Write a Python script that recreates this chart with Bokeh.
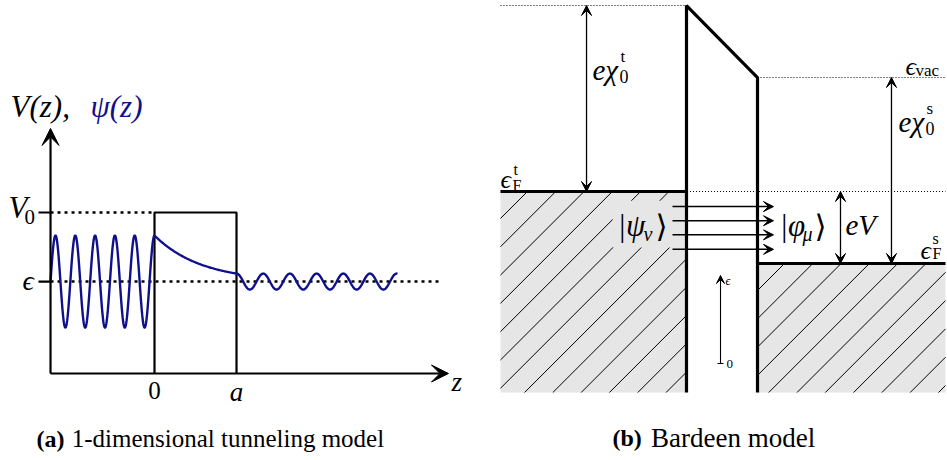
import numpy as np
from bokeh.plotting import figure
from bokeh.models import Range1d, Arrow, VeeHead, TeeHead
from bokeh.layouts import row
from bokeh.core.properties import value
from bokeh.embed import file_html
from bokeh.resources import INLINE

# ---------------- data: (a) 1-D tunnelling model ----------------
Z_BARRIER = [0.0, 1.0]            # barrier edges: 0 and a
V0 = 1.0                          # barrier height
EPS = 0.571                       # particle energy
Z_AXIS = [-1.268, 3.585]          # z axis extent
V_AXIS = [0.0, 1.522]             # V axis extent
TICK_Z = -1.415
EPS_DOT_END = 3.51
PSI_LEFT_AMP = 0.286
PSI_LEFT_WL = 0.2415
PSI_DECAY = 1.75
PSI_RIGHT_AMP = 0.0497
PSI_RIGHT_WL = 0.3256
PSI_RIGHT_END = 2.963

# ---------------- data: (b) Bardeen model ----------------
TIP_LEFT = -2.62
GAP = 1.0
SAMPLE_RIGHT = 3.648
BOTTOM = -3.468
E_F_S = 0.0
EV = 1.935
E_F_T = E_F_S + EV
CHI_T = 5.0
CHI_S = 5.0
E_VAC_T = E_F_T + CHI_T
E_VAC_S = E_F_S + CHI_S
STATE_E = [1.53, 1.15, 0.77, 0.38]
STATE_U = [-0.197, 1.225]
ARROW_CHI_T_U = -1.408
ARROW_EV_U = 2.169
ARROW_CHI_S_U = 2.887
SMALL_AXIS_U = 0.479
SMALL_AXIS_E = [-2.688, -0.323]

NAVY = "#10108c"
GRAY = "#e6e6e6"
SERIF = value("'Liberation Serif', 'DejaVu Serif', serif")


def make_fig(w, h, xr, yr):
    p = figure(width=w, height=h, x_range=Range1d(*xr), y_range=Range1d(*yr),
               output_backend="svg", toolbar_location=None, min_border=0)
    p.axis.visible = False
    p.grid.visible = False
    p.outline_line_color = None
    p.background_fill_color = "white"
    p.border_fill_color = "white"
    return p


def txt(p, x, y, s, size, italic=True, color="black", align="left", bold=False):
    style = "italic" if italic else "normal"
    if bold:
        style = "bold"
    p.text(x=[x], y=[y], text=[s], text_font=SERIF, text_font_size=f"{size}px",
           text_font_style=style, text_color=color, text_align=align,
           text_baseline="middle")


# ================= panel (a) =================
pa = make_fig(473, 460, (-1.878, 3.890), (-0.5404, 2.3168))

pa.add_layout(Arrow(end=VeeHead(size=17, fill_color="black", line_color="black", line_width=1),
                    x_start=Z_AXIS[0], y_start=V_AXIS[0], x_end=Z_AXIS[0], y_end=V_AXIS[1],
                    line_width=2.2))
pa.add_layout(Arrow(end=VeeHead(size=17, fill_color="black", line_color="black", line_width=1),
                    x_start=Z_AXIS[0], y_start=0.0, x_end=Z_AXIS[1], y_end=0.0,
                    line_width=2.2))
pa.segment(x0=[TICK_Z, TICK_Z], y0=[V0, EPS], x1=[Z_AXIS[0]] * 2, y1=[V0, EPS],
           line_width=2.2, line_color="black")
pa.line([Z_AXIS[0], Z_BARRIER[0]], [V0, V0], line_dash="3 4", line_width=2.5, line_color="black")
pa.line([Z_AXIS[0], EPS_DOT_END], [EPS, EPS], line_dash="3 4", line_width=2.5, line_color="black")
pa.line([Z_BARRIER[0], Z_BARRIER[0], Z_BARRIER[1], Z_BARRIER[1]], [0, V0, V0, 0],
        line_width=2.2, line_color="black")
z1 = np.linspace(Z_AXIS[0], Z_BARRIER[0], 400)
psi1 = EPS + PSI_LEFT_AMP * np.cos(2 * np.pi * z1 / PSI_LEFT_WL)
z2 = np.linspace(Z_BARRIER[0], Z_BARRIER[1], 100)
psi2 = EPS + PSI_LEFT_AMP * np.exp(-PSI_DECAY * z2)
z3 = np.linspace(Z_BARRIER[1], PSI_RIGHT_END, 400)
psi3 = EPS + PSI_RIGHT_AMP * np.cos(2 * np.pi * (z3 - Z_BARRIER[1]) / PSI_RIGHT_WL)
pa.line(np.concatenate([z1, z2, z3]), np.concatenate([psi1, psi2, psi3]),
        line_color=NAVY, line_width=2.4)

txt(pa, -1.756, 1.658, "V(z),", 31)
txt(pa, -0.780, 1.658, "ψ(z)", 31, color=NAVY)
txt(pa, -1.780, 1.031, "V", 31)
txt(pa, -1.585, 0.975, "0", 21, italic=False)
txt(pa, -1.61, 0.580, "ϵ", 28)
txt(pa, 0.0, -0.106, "0", 25, italic=False, align="center")
txt(pa, 1.0, -0.118, "a", 27, align="center")
txt(pa, 3.622, -0.05, "z", 27)
txt(pa, -1.439, -0.404, "(a)", 24, bold=True)
txt(pa, -1.010, -0.404, "1-dimensional tunneling model", 25, italic=False)

# ================= panel (b) =================
pb = make_fig(474, 460, (-3.0, 3.676), (-5.296, 7.070))

pb.quad(left=[TIP_LEFT, GAP], right=[0.0, SAMPLE_RIGHT], bottom=[BOTTOM, BOTTOM],
        top=[E_F_T, E_F_S], fill_color=GRAY, line_color=None)

SLOPE = 71.0 / 37.2
STEP = 28.3 / 37.2


def hatch(u1, u2, e1, e2, u0, e0):
    xs, ys = [], []
    for k in range(-40, 40):
        ek = e0 + k * STEP
        ua = u0 + (e1 - ek) / SLOPE
        ub = u0 + (e2 - ek) / SLOPE
        lo, hi = max(min(ua, ub), u1), min(max(ua, ub), u2)
        if hi > lo:
            xs.append([lo, hi])
            ys.append([ek + SLOPE * (lo - u0), ek + SLOPE * (hi - u0)])
    return xs, ys


hx, hy = hatch(TIP_LEFT, 0.0, BOTTOM, E_F_T, TIP_LEFT, 1.21)
hx2, hy2 = hatch(GAP, SAMPLE_RIGHT, BOTTOM, E_F_S, GAP, -0.726)
pb.multi_line(hx + hx2, hy + hy2, line_color="black", line_width=1.0)
pb.quad(left=[-1.04], right=[0.0], bottom=[0.43], top=[1.69], fill_color=GRAY, line_color=None)

pb.line([TIP_LEFT, 0.0], [E_VAC_T, E_VAC_T], line_dash="1 2", line_width=1.1, line_color="black")
pb.line([GAP, SAMPLE_RIGHT], [E_VAC_S, E_VAC_S], line_dash="1 2", line_width=1.1, line_color="black")
pb.line([0.05, SAMPLE_RIGHT], [E_F_T, E_F_T], line_dash="1 2", line_width=1.1, line_color="black")

pb.line([0.0, 0.0, GAP, GAP], [BOTTOM, E_VAC_T, E_VAC_S, BOTTOM], line_width=3.2, line_color="black")
pb.line([TIP_LEFT, 0.0], [E_F_T, E_F_T], line_width=3.2, line_color="black")
pb.line([GAP, SAMPLE_RIGHT], [E_F_S, E_F_S], line_width=3.2, line_color="black")


def head(sz):
    return VeeHead(size=sz, fill_color="black", line_color="black", line_width=1)


for u, e0, e1 in [(ARROW_CHI_T_U, E_F_T, E_VAC_T), (ARROW_CHI_S_U, E_F_S, E_VAC_S),
                  (ARROW_EV_U, E_F_S, E_F_T)]:
    pb.add_layout(Arrow(start=head(10), end=head(10), x_start=u, y_start=e0, x_end=u, y_end=e1,
                        line_width=1.3))
for e in STATE_E:
    pb.add_layout(Arrow(end=head(10), x_start=STATE_U[0], y_start=e, x_end=STATE_U[1], y_end=e,
                        line_width=1.5))
pb.add_layout(Arrow(start=TeeHead(size=6, line_width=1), end=head(8),
                    x_start=SMALL_AXIS_U, y_start=SMALL_AXIS_E[0],
                    x_end=SMALL_AXIS_U, y_end=SMALL_AXIS_E[1], line_width=1.1))

txt(pb, -1.324, 5.215, "eχ", 29)
txt(pb, -0.944, 5.027, "0", 18, italic=False)
txt(pb, -0.930, 5.565, "t", 17, italic=False)
txt(pb, 3.085, 5.296, "ϵ", 26)
txt(pb, 3.225, 5.188, "vac", 17, italic=False)
txt(pb, 2.986, 3.817, "eχ", 29)
txt(pb, 3.366, 3.629, "0", 18, italic=False)
txt(pb, 3.380, 4.167, "s", 17, italic=False)
txt(pb, -2.620, 2.258, "ϵ", 26)
txt(pb, -2.437, 2.527, "t", 16, italic=False)
txt(pb, -2.451, 2.097, "F", 16, italic=False)
txt(pb, 3.296, 0.349, "ϵ", 26)
txt(pb, 3.465, 0.672, "s", 16, italic=False)
txt(pb, 3.465, 0.269, "F", 16, italic=False)
txt(pb, -0.972, 1.022, "|ψ", 31)
txt(pb, -0.606, 0.806, "ν", 20)
txt(pb, -0.437, 0.995, "⟩", 31, italic=False)
txt(pb, 1.310, 1.022, "|φ", 31)
txt(pb, 1.634, 0.806, "μ", 20)
txt(pb, 1.803, 0.995, "⟩", 31, italic=False)
txt(pb, 2.239, 1.048, "eV", 29)
txt(pb, 0.549, -0.484, "ϵ", 12)
txt(pb, 0.563, -2.715, "0", 13, italic=False)
txt(pb, -1.042, -4.704, "(b)", 24, bold=True)
txt(pb, -0.500, -4.704, "Bardeen model", 27, italic=False)

layout = row(pa, pb)
open("out.html", "w").write(file_html(layout, INLINE))
